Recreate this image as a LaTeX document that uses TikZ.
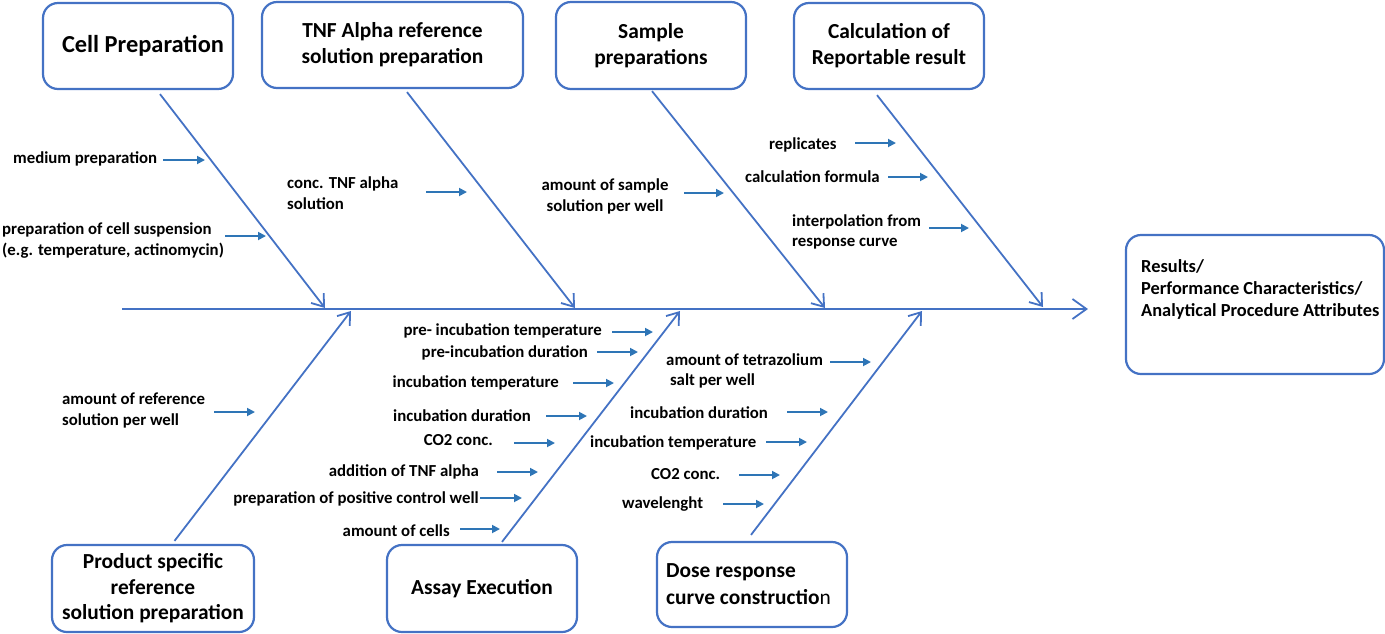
\documentclass[tikz,border=0pt]{standalone}
\usepackage{fontspec}
\setmainfont{Carlito}
\usetikzlibrary{arrows.meta}
\definecolor{boxblue}{RGB}{68,114,196}
\definecolor{arrowblue}{RGB}{46,117,182}
\begin{document}
\begin{tikzpicture}[x=1pt,y=-1pt,
  catbox/.style={draw=boxblue, line width=2.2pt, rounded corners=15pt, align=center,
    inner sep=0pt, font=\bfseries\fontsize{21.4}{26}\selectfont},
  bone/.style={draw=boxblue, line width=1.8pt,
    -{Straight Barb[length=11pt,width=16pt,line width=1.8pt]}},
  spine/.style={draw=boxblue, line width=1.8pt,
    -{Straight Barb[length=14pt,width=20pt,line width=1.8pt]}},
  feat/.style={draw=arrowblue, line width=1.8pt,
    -{Triangle[length=8pt,width=8pt]}},
  lbl/.style={inner sep=0pt, font=\bfseries\fontsize{16.8}{20.5}\selectfont},
]
\useasboundingbox (0,0) rectangle (1385,633);

% ---- category boxes above the spine
\node[catbox, minimum width=190pt, minimum height=86pt, font=\bfseries\fontsize{24.4}{26}\selectfont]
  (cp) at (138,46) {\hspace*{10pt}Cell Preparation};
\node[catbox, minimum width=261pt, minimum height=86pt] (tnf) at (392.5,45)
  {TNF Alpha reference\\solution preparation};
\node[catbox, minimum width=190pt, minimum height=87pt] (sp) at (651,45.5)
  {Sample\\preparations};
\node[catbox, minimum width=190pt, minimum height=86pt] (calc) at (889,46)
  {Calculation of\\Reportable result};

% ---- category boxes below the spine
\node[catbox, minimum width=202pt, minimum height=87pt, font=\bfseries\fontsize{21.4}{25.5}\selectfont]
  (prod) at (153,588.5) {Product specific\\reference\\solution preparation};
\node[catbox, minimum width=190pt, minimum height=87pt] (assay) at (482,588.5)
  {Assay Execution};
\node[catbox, minimum width=190pt, minimum height=85pt] (dose) at (752,584.5) {};
\node[anchor=west, align=left, inner sep=0pt, font=\bfseries\fontsize{21.4}{27}\selectfont]
  (dosetxt) at (666,584) {Dose response\\curve constructio{\mdseries n}};

% ---- effect box
\node[catbox, minimum width=258pt, minimum height=139pt] (res) at (1255,304.5) {};
\node[anchor=west, align=left, inner sep=0pt, font=\bfseries\fontsize{18.4}{22}\selectfont]
  (restxt) at (1141,289) {Results/\\Performance Characteristics/\\Analytical Procedure Attributes};

% ---- spine and joints
\coordinate (tail) at (122,309);
\coordinate (head) at (1088,309);
\coordinate (j1) at (325,308);
\coordinate (j2) at (575,308);
\coordinate (j3) at (825,308);
\coordinate (j4) at (1043,307);
\coordinate (j5) at (351,311);
\coordinate (j6) at (680,311);
\coordinate (j7) at (922,311);
\draw[spine] (tail) -- (head);

% ---- bones
\draw[bone] ([xshift=22pt,yshift=-4pt]cp.south) -- (j1);
\draw[bone] ([xshift=14.5pt,yshift=-3pt]tnf.south) -- (j2);
\draw[bone] ([xshift=1pt,yshift=-1pt]sp.south) -- (j3);
\draw[bone] ([xshift=-12pt,yshift=-5pt]calc.south) -- (j4);
\draw[bone] ([xshift=21.5pt,yshift=3pt]prod.north) -- (j5);
\draw[bone] ([xshift=20pt,yshift=2pt]assay.north) -- (j6);
\draw[bone] ([xshift=-1pt,yshift=6pt]dose.north) -- (j7);

% ---- Cell Preparation causes
\node[lbl, anchor=west] (c1) at (13,159) {medium preparation};
\coordinate (c1t) at (205,160);
\draw[feat] ([xshift=-42pt]c1t) -- (c1t);
\node[lbl, anchor=west, align=left] (c2) at (2,240.5)
  {preparation of cell suspension\\(e.g. temperature, actinomycin)};
\coordinate (c2t) at (266,236);
\draw[feat] ([xshift=-41pt]c2t) -- (c2t);

% ---- TNF alpha reference causes
\node[lbl, anchor=west, align=left] (t1) at (287,193) {conc. TNF alpha\\solution};
\coordinate (t1t) at (467,192);
\draw[feat] ([xshift=-41pt]t1t) -- (t1t);

% ---- Sample preparation causes
\node[lbl, align=center] (s1) at (605,196.5) {amount of sample\\solution per well};
\coordinate (s1t) at (724,193);
\draw[feat] ([xshift=-40pt]s1t) -- (s1t);

% ---- Reportable result causes
\node[lbl, anchor=west] (r1) at (769,145) {replicates};
\coordinate (r1t) at (896,143);
\draw[feat] ([xshift=-41pt]r1t) -- (r1t);
\node[lbl, anchor=west] (r2) at (745,177) {calculation formula};
\coordinate (r2t) at (928,177);
\draw[feat] ([xshift=-40pt]r2t) -- (r2t);
\node[lbl, anchor=west, align=left] (r3) at (792,232) {interpolation from\\response curve};
\coordinate (r3t) at (969,228);
\draw[feat] ([xshift=-40pt]r3t) -- (r3t);

% ---- Product specific reference causes
\node[lbl, anchor=west, align=left] (p1) at (62,410.5) {amount of reference\\solution per well};
\coordinate (p1t) at (255,412);
\draw[feat] ([xshift=-41pt]p1t) -- (p1t);

% ---- Assay execution causes
\node[lbl, anchor=east] (a1) at (602,331) {pre- incubation temperature};
\coordinate (a1t) at (653,332);
\draw[feat] ([xshift=-41pt]a1t) -- (a1t);
\node[lbl, anchor=east] (a2) at (588,353) {pre-incubation duration};
\coordinate (a2t) at (638,352);
\draw[feat] ([xshift=-41pt]a2t) -- (a2t);
\node[lbl, anchor=east] (a3) at (559,383) {incubation temperature};
\coordinate (a3t) at (614,383);
\draw[feat] ([xshift=-41pt]a3t) -- (a3t);
\node[lbl, anchor=east] (a4) at (531,416) {incubation duration};
\coordinate (a4t) at (587,416);
\draw[feat] ([xshift=-41pt]a4t) -- (a4t);
\node[lbl, anchor=east] (a5) at (493,440) {CO2 conc.};
\coordinate (a5t) at (555,443);
\draw[feat] ([xshift=-41pt]a5t) -- (a5t);
\node[lbl, anchor=east] (a6) at (479,472) {addition of TNF alpha};
\coordinate (a6t) at (538,472);
\draw[feat] ([xshift=-41pt]a6t) -- (a6t);
\node[lbl, anchor=east] (a7) at (479,499) {preparation of positive control well};
\coordinate (a7t) at (522,498);
\draw[feat] ([xshift=-42pt]a7t) -- (a7t);
\node[lbl, anchor=east] (a8) at (450,531) {amount of cells};
\coordinate (a8t) at (500,529);
\draw[feat] ([xshift=-40pt]a8t) -- (a8t);

% ---- Dose response curve causes
\node[lbl, anchor=west, align=left] (d1) at (666,371) {amount of tetrazolium\\\ salt per well};
\coordinate (d1t) at (871,362);
\draw[feat] ([xshift=-41pt]d1t) -- (d1t);
\node[lbl, anchor=west] (d2) at (630,413) {incubation duration};
\coordinate (d2t) at (828,412);
\draw[feat] ([xshift=-41pt]d2t) -- (d2t);
\node[lbl, anchor=west] (d3) at (590,443) {incubation temperature};
\coordinate (d3t) at (807,442);
\draw[feat] ([xshift=-41pt]d3t) -- (d3t);
\node[lbl, anchor=west] (d4) at (651,474) {CO2 conc.};
\coordinate (d4t) at (780,475);
\draw[feat] ([xshift=-41pt]d4t) -- (d4t);
\node[lbl, anchor=west] (d5) at (622,504) {wavelenght};
\coordinate (d5t) at (764,504);
\draw[feat] ([xshift=-41pt]d5t) -- (d5t);
\end{tikzpicture}
\end{document}
